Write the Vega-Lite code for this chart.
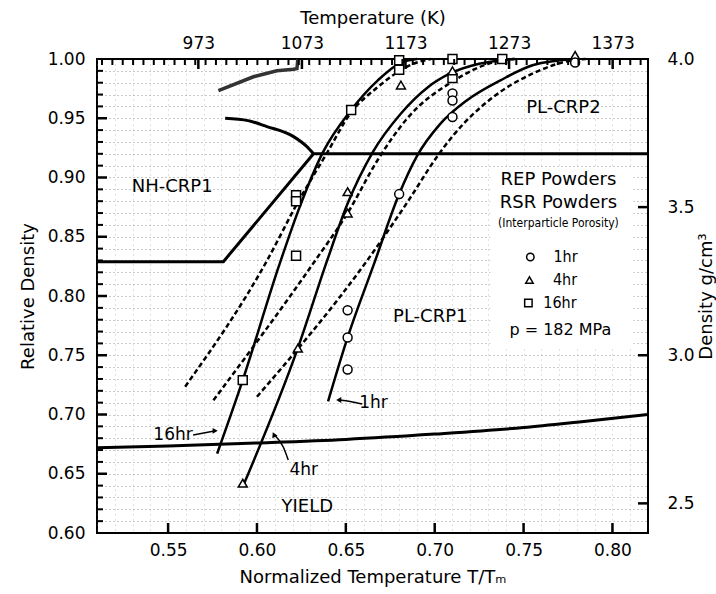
{
  "$schema": "https://vega.github.io/schema/vega-lite/v6.json",
  "width": 551,
  "height": 474,
  "autosize": {"type": "none"},
  "padding": {"left": 97, "top": 59, "right": 68, "bottom": 61},
  "background": "white",
  "config": {
    "view": {"stroke": "black", "strokeWidth": 2},
    "font": "DejaVu Sans",
    "axis": {"labelFont": "DejaVu Sans", "titleFont": "DejaVu Sans", "labelColor": "#000", "titleColor": "#000", "tickColor": "#000", "titleFontWeight": "normal", "domain": false, "grid": false, "labelFontSize": 17, "titleFontSize": 18}
  },
  "datasets": {
    "mk": [
      {"hr": "16hr", "t": 0.680, "r": 0.999},
      {"hr": "16hr", "t": 0.680, "r": 0.991},
      {"hr": "16hr", "t": 0.710, "r": 1.0},
      {"hr": "16hr", "t": 0.710, "r": 0.984},
      {"hr": "16hr", "t": 0.738, "r": 1.0},
      {"hr": "16hr", "t": 0.653, "r": 0.957},
      {"hr": "16hr", "t": 0.622, "r": 0.885},
      {"hr": "16hr", "t": 0.622, "r": 0.880},
      {"hr": "16hr", "t": 0.622, "r": 0.834},
      {"hr": "16hr", "t": 0.592, "r": 0.729},
      {"hr": "4hr", "t": 0.681, "r": 0.978},
      {"hr": "4hr", "t": 0.710, "r": 0.990},
      {"hr": "4hr", "t": 0.779, "r": 1.003},
      {"hr": "4hr", "t": 0.651, "r": 0.888},
      {"hr": "4hr", "t": 0.651, "r": 0.870},
      {"hr": "4hr", "t": 0.623, "r": 0.756},
      {"hr": "4hr", "t": 0.592, "r": 0.642},
      {"hr": "1hr", "t": 0.779, "r": 0.997},
      {"hr": "1hr", "t": 0.710, "r": 0.971},
      {"hr": "1hr", "t": 0.710, "r": 0.965},
      {"hr": "1hr", "t": 0.710, "r": 0.951},
      {"hr": "1hr", "t": 0.680, "r": 0.886},
      {"hr": "1hr", "t": 0.651, "r": 0.788},
      {"hr": "1hr", "t": 0.651, "r": 0.765},
      {"hr": "1hr", "t": 0.651, "r": 0.738}
    ],
    "lg": [
      {"hr": "1hr", "t": 0.7538, "r": 0.8329},
      {"hr": "4hr", "t": 0.7533, "r": 0.8135},
      {"hr": "16hr", "t": 0.7527, "r": 0.7941}
    ],
    "ln": [
      {"id": "s16", "t": 0.5776, "r": 0.667},
      {"id": "s16", "t": 0.592, "r": 0.729},
      {"id": "s16", "t": 0.6125, "r": 0.826},
      {"id": "s16", "t": 0.624, "r": 0.875},
      {"id": "s16", "t": 0.637, "r": 0.921},
      {"id": "s16", "t": 0.653, "r": 0.957},
      {"id": "s16", "t": 0.668, "r": 0.982},
      {"id": "s16", "t": 0.681, "r": 0.997},
      {"id": "s16", "t": 0.690, "r": 1.0},
      {"id": "s4", "t": 0.592, "r": 0.639},
      {"id": "s4", "t": 0.623, "r": 0.756},
      {"id": "s4", "t": 0.6395, "r": 0.830},
      {"id": "s4", "t": 0.651, "r": 0.878},
      {"id": "s4", "t": 0.665, "r": 0.921},
      {"id": "s4", "t": 0.681, "r": 0.954},
      {"id": "s4", "t": 0.696, "r": 0.976},
      {"id": "s4", "t": 0.709, "r": 0.988},
      {"id": "s4", "t": 0.725, "r": 0.996},
      {"id": "s4", "t": 0.745, "r": 1.0},
      {"id": "s1", "t": 0.640, "r": 0.711},
      {"id": "s1", "t": 0.651, "r": 0.765},
      {"id": "s1", "t": 0.6656, "r": 0.826},
      {"id": "s1", "t": 0.680, "r": 0.886},
      {"id": "s1", "t": 0.690, "r": 0.918},
      {"id": "s1", "t": 0.703, "r": 0.945},
      {"id": "s1", "t": 0.718, "r": 0.965},
      {"id": "s1", "t": 0.737, "r": 0.982},
      {"id": "s1", "t": 0.7555, "r": 0.995},
      {"id": "s1", "t": 0.779, "r": 1.0},
      {"id": "d16", "t": 0.5596, "r": 0.7235},
      {"id": "d16", "t": 0.6057, "r": 0.830},
      {"id": "d16", "t": 0.6226, "r": 0.878},
      {"id": "d16", "t": 0.6395, "r": 0.921},
      {"id": "d16", "t": 0.6525, "r": 0.954},
      {"id": "d16", "t": 0.6677, "r": 0.976},
      {"id": "d16", "t": 0.688, "r": 0.996},
      {"id": "d16", "t": 0.698, "r": 1.0},
      {"id": "d4", "t": 0.5755, "r": 0.712},
      {"id": "d4", "t": 0.6328, "r": 0.830},
      {"id": "d4", "t": 0.651, "r": 0.870},
      {"id": "d4", "t": 0.668, "r": 0.915},
      {"id": "d4", "t": 0.6846, "r": 0.950},
      {"id": "d4", "t": 0.710, "r": 0.981},
      {"id": "d4", "t": 0.735, "r": 0.998},
      {"id": "d4", "t": 0.745, "r": 1.0},
      {"id": "d1", "t": 0.600, "r": 0.715},
      {"id": "d1", "t": 0.662, "r": 0.830},
      {"id": "d1", "t": 0.685, "r": 0.880},
      {"id": "d1", "t": 0.7015, "r": 0.918},
      {"id": "d1", "t": 0.7107, "r": 0.936},
      {"id": "d1", "t": 0.733, "r": 0.968},
      {"id": "d1", "t": 0.7555, "r": 0.988},
      {"id": "d1", "t": 0.778, "r": 0.999},
      {"id": "d1", "t": 0.785, "r": 1.0},
      {"id": "nh", "t": 0.51, "r": 0.829},
      {"id": "nh", "t": 0.5811, "r": 0.829},
      {"id": "nh", "t": 0.6318, "r": 0.920},
      {"id": "nh", "t": 0.82, "r": 0.920},
      {"id": "c95", "t": 0.5821, "r": 0.950},
      {"id": "c95", "t": 0.595, "r": 0.948},
      {"id": "c95", "t": 0.6056, "r": 0.943},
      {"id": "c95", "t": 0.6206, "r": 0.9345},
      {"id": "c95", "t": 0.6281, "r": 0.926},
      {"id": "c95", "t": 0.6318, "r": 0.920},
      {"id": "top", "t": 0.5783, "r": 0.9733},
      {"id": "top", "t": 0.598, "r": 0.985},
      {"id": "top", "t": 0.6112, "r": 0.990},
      {"id": "top", "t": 0.6206, "r": 0.9913},
      {"id": "top", "t": 0.6225, "r": 0.992},
      {"id": "top", "t": 0.623, "r": 1.0},
      {"id": "yld", "t": 0.51, "r": 0.672},
      {"id": "yld", "t": 0.55, "r": 0.6735},
      {"id": "yld", "t": 0.60, "r": 0.676},
      {"id": "yld", "t": 0.65, "r": 0.679},
      {"id": "yld", "t": 0.70, "r": 0.6835},
      {"id": "yld", "t": 0.75, "r": 0.689},
      {"id": "yld", "t": 0.78, "r": 0.6935},
      {"id": "yld", "t": 0.82, "r": 0.700},
      {"id": "a16", "t": 0.5641, "r": 0.6827},
      {"id": "a16", "t": 0.5760, "r": 0.6861},
      {"id": "a1", "t": 0.6465, "r": 0.7122},
      {"id": "a1", "t": 0.6525, "r": 0.7110},
      {"id": "a1", "t": 0.6592, "r": 0.7089},
      {"id": "a4", "t": 0.6100, "r": 0.6825},
      {"id": "a4", "t": 0.6148, "r": 0.6726},
      {"id": "a4", "t": 0.6176, "r": 0.6616}
    ],
    "ah": [
      {"a": "a16", "t": 0.5765, "r": 0.6862},
      {"a": "a1", "t": 0.6460, "r": 0.7122},
      {"a": "a4", "t": 0.6095, "r": 0.6830}
    ],
    "tx": [
      {"g": "big", "s": "NH-CRP1", "t": 0.5523, "r": 0.892},
      {"g": "big", "s": "PL-CRP1", "t": 0.6975, "r": 0.7823},
      {"g": "big", "s": "PL-CRP2", "t": 0.7724, "r": 0.9587},
      {"g": "big", "s": "YIELD", "t": 0.6283, "r": 0.622},
      {"g": "big", "s": "REP Powders", "t": 0.7696, "r": 0.8979},
      {"g": "big", "s": "RSR Powders", "t": 0.7696, "r": 0.8785},
      {"g": "small", "s": "(Interparticle Porosity)", "t": 0.7696, "r": 0.8616},
      {"g": "arr", "s": "1hr", "t": 0.6656, "r": 0.7095},
      {"g": "arr", "s": "16hr", "t": 0.5528, "r": 0.6827},
      {"g": "arr", "s": "4hr", "t": 0.6263, "r": 0.6532},
      {"g": "leg", "s": "1hr", "t": 0.7668, "r": 0.8329},
      {"g": "leg", "s": "4hr", "t": 0.7665, "r": 0.8135},
      {"g": "leg", "s": "16hr", "t": 0.7611, "r": 0.7941},
      {"g": "p", "s": "p = 182 MPa", "t": 0.7707, "r": 0.7713}
    ],
    "tk": [
      {"ax": "b", "v": 0.55}, {"ax": "b", "v": 0.60}, {"ax": "b", "v": 0.65}, {"ax": "b", "v": 0.70}, {"ax": "b", "v": 0.75}, {"ax": "b", "v": 0.80},
      {"ax": "l", "v": 0.65}, {"ax": "l", "v": 0.70}, {"ax": "l", "v": 0.75}, {"ax": "l", "v": 0.80}, {"ax": "l", "v": 0.85}, {"ax": "l", "v": 0.90}, {"ax": "l", "v": 0.95},
      {"ax": "lm", "v": 0.61}, {"ax": "lm", "v": 0.62}, {"ax": "lm", "v": 0.63}, {"ax": "lm", "v": 0.64},
      {"ax": "lm", "v": 0.66}, {"ax": "lm", "v": 0.67}, {"ax": "lm", "v": 0.68}, {"ax": "lm", "v": 0.69},
      {"ax": "lm", "v": 0.71}, {"ax": "lm", "v": 0.72}, {"ax": "lm", "v": 0.73}, {"ax": "lm", "v": 0.74},
      {"ax": "lm", "v": 0.76}, {"ax": "lm", "v": 0.77}, {"ax": "lm", "v": 0.78}, {"ax": "lm", "v": 0.79},
      {"ax": "lm", "v": 0.81}, {"ax": "lm", "v": 0.82}, {"ax": "lm", "v": 0.83}, {"ax": "lm", "v": 0.84},
      {"ax": "lm", "v": 0.86}, {"ax": "lm", "v": 0.87}, {"ax": "lm", "v": 0.88}, {"ax": "lm", "v": 0.89},
      {"ax": "lm", "v": 0.91}, {"ax": "lm", "v": 0.92}, {"ax": "lm", "v": 0.93}, {"ax": "lm", "v": 0.94},
      {"ax": "lm", "v": 0.96}, {"ax": "lm", "v": 0.97}, {"ax": "lm", "v": 0.98}, {"ax": "lm", "v": 0.99}
    ],
    "ktk": [
      {"ax": "t", "K": 973}, {"ax": "t", "K": 1073}, {"ax": "t", "K": 1173}, {"ax": "t", "K": 1273}, {"ax": "t", "K": 1373},
      {"ax": "tm", "K": 880}, {"ax": "tm", "K": 890}, {"ax": "tm", "K": 900}, {"ax": "tm", "K": 910}, {"ax": "tm", "K": 920},
      {"ax": "tm", "K": 930}, {"ax": "tm", "K": 940}, {"ax": "tm", "K": 950}, {"ax": "tm", "K": 960}, {"ax": "tm", "K": 970},
      {"ax": "tm", "K": 980}, {"ax": "tm", "K": 990}, {"ax": "tm", "K": 1000}, {"ax": "tm", "K": 1010}, {"ax": "tm", "K": 1020},
      {"ax": "tm", "K": 1030}, {"ax": "tm", "K": 1040}, {"ax": "tm", "K": 1050}, {"ax": "tm", "K": 1060}, {"ax": "tm", "K": 1070},
      {"ax": "tm", "K": 1080}, {"ax": "tm", "K": 1090}, {"ax": "tm", "K": 1100}, {"ax": "tm", "K": 1110}, {"ax": "tm", "K": 1120},
      {"ax": "tm", "K": 1130}, {"ax": "tm", "K": 1140}, {"ax": "tm", "K": 1150}, {"ax": "tm", "K": 1160}, {"ax": "tm", "K": 1170},
      {"ax": "tm", "K": 1180}, {"ax": "tm", "K": 1190}, {"ax": "tm", "K": 1200}, {"ax": "tm", "K": 1210}, {"ax": "tm", "K": 1220},
      {"ax": "tm", "K": 1230}, {"ax": "tm", "K": 1240}, {"ax": "tm", "K": 1250}, {"ax": "tm", "K": 1260}, {"ax": "tm", "K": 1270},
      {"ax": "tm", "K": 1280}, {"ax": "tm", "K": 1290}, {"ax": "tm", "K": 1300}, {"ax": "tm", "K": 1310}, {"ax": "tm", "K": 1320},
      {"ax": "tm", "K": 1330}, {"ax": "tm", "K": 1340}, {"ax": "tm", "K": 1350}, {"ax": "tm", "K": 1360}, {"ax": "tm", "K": 1370},
      {"ax": "tm", "K": 1380}, {"ax": "tm", "K": 1390}, {"ax": "tm", "K": 1400}
    ],
    "dtk": [{"d": 2.5}, {"d": 3.0}, {"d": 3.5}],
    "box": [{"t1": 0.7313, "t2": 0.8118, "r1": 0.757, "r2": 0.9089}],
    "kax": [{"K": 973}, {"K": 1373}],
    "dax": [{"d": 2.5}, {"d": 4.0}]
  },
  "layer": [
    {
      "layer": [
        {
          "data": {"name": "mk"},
          "mark": {"type": "point", "opacity": 0},
          "encoding": {
            "x": {"field": "t", "type": "quantitative", "scale": {"domain": [0.51, 0.82], "nice": false, "zero": false},
              "axis": {"orient": "bottom", "grid": true, "ticks": false, "labels": false, "title": null,
                "values": [0.51,0.52,0.53,0.54,0.55,0.56,0.57,0.58,0.59,0.60,0.61,0.62,0.63,0.64,0.65,0.66,0.67,0.68,0.69,0.70,0.71,0.72,0.73,0.74,0.75,0.76,0.77,0.78,0.79,0.80,0.81],
                "gridColor": "#777", "gridDash": [1, 4], "gridOpacity": 0.45, "gridWidth": 1}},
            "y": {"field": "r", "type": "quantitative", "scale": {"domain": [0.6, 1.0], "nice": false, "zero": false},
              "axis": {"orient": "left", "grid": true, "ticks": false, "labels": false, "title": null,
                "values": [0.61,0.62,0.63,0.64,0.65,0.66,0.67,0.68,0.69,0.70,0.71,0.72,0.73,0.74,0.75,0.76,0.77,0.78,0.79,0.80,0.81,0.82,0.83,0.84,0.85,0.86,0.87,0.88,0.89,0.90,0.91,0.92,0.93,0.94,0.95,0.96,0.97,0.98,0.99],
                "gridColor": "#666", "gridDash": [1, 3], "gridOpacity": 0.7, "gridWidth": 1}}
          }
        },
        {
          "data": {"name": "mk"},
          "mark": {"type": "point", "opacity": 0},
          "encoding": {
            "x": {"field": "t", "type": "quantitative", "scale": {"domain": [0.51, 0.82], "nice": false, "zero": false},
              "axis": {"orient": "bottom", "ticks": false, "labelPadding": 9, "format": ".2f", "labelFlush": false,
                "values": [0.55, 0.60, 0.65, 0.70, 0.75, 0.80], "title": "Normalized Temperature T/Tₘ", "titlePadding": 10}},
            "y": {"field": "r", "type": "quantitative", "scale": {"domain": [0.6, 1.0], "nice": false, "zero": false},
              "axis": {"orient": "left", "ticks": false, "labelPadding": 12, "format": ".2f",
                "values": [0.60, 0.65, 0.70, 0.75, 0.80, 0.85, 0.90, 0.95, 1.00], "title": "Relative Density", "titlePadding": 10}}
          }
        },
        {
          "data": {"name": "tk"},
          "transform": [{"filter": {"field": "ax", "equal": "b"}}],
          "mark": {"type": "tick", "orient": "vertical", "size": 20, "thickness": 2.5, "color": "black", "opacity": 1, "clip": true},
          "encoding": {
            "x": {"field": "v", "type": "quantitative", "scale": {"domain": [0.51, 0.82], "nice": false, "zero": false}, "axis": null},
            "y": {"datum": 0.6, "type": "quantitative", "scale": {"domain": [0.6, 1.0], "nice": false, "zero": false}, "axis": null}
          }
        },
        {
          "data": {"name": "tk"},
          "transform": [{"filter": {"field": "ax", "equal": "l"}}],
          "mark": {"type": "tick", "orient": "horizontal", "size": 20, "thickness": 2.5, "color": "black", "opacity": 1, "clip": true},
          "encoding": {
            "y": {"field": "v", "type": "quantitative", "scale": {"domain": [0.6, 1.0], "nice": false, "zero": false}, "axis": null},
            "x": {"datum": 0.51, "type": "quantitative", "scale": {"domain": [0.51, 0.82], "nice": false, "zero": false}, "axis": null}
          }
        },
        {
          "data": {"name": "tk"},
          "transform": [{"filter": {"field": "ax", "equal": "lm"}}],
          "mark": {"type": "tick", "orient": "horizontal", "size": 12, "thickness": 2, "color": "black", "opacity": 1, "clip": true},
          "encoding": {
            "y": {"field": "v", "type": "quantitative", "scale": {"domain": [0.6, 1.0], "nice": false, "zero": false}, "axis": null},
            "x": {"datum": 0.51, "type": "quantitative", "scale": {"domain": [0.51, 0.82], "nice": false, "zero": false}, "axis": null}
          }
        },
        {
          "data": {"name": "box"},
          "mark": {"type": "rect", "fill": "white"},
          "encoding": {
            "x": {"field": "t1", "type": "quantitative", "scale": {"domain": [0.51, 0.82], "nice": false, "zero": false}, "axis": null},
            "x2": {"field": "t2"},
            "y": {"field": "r1", "type": "quantitative", "scale": {"domain": [0.6, 1.0], "nice": false, "zero": false}, "axis": null},
            "y2": {"field": "r2"}
          }
        },
        {
          "data": {"name": "ln"},
          "transform": [{"filter": {"field": "id", "oneOf": ["s16", "s4", "s1"]}}],
          "mark": {"type": "line", "color": "black", "strokeWidth": 2.5, "interpolate": "monotone"},
          "encoding": {
            "x": {"field": "t", "type": "quantitative", "scale": {"domain": [0.51, 0.82], "nice": false, "zero": false}, "axis": null},
            "y": {"field": "r", "type": "quantitative", "scale": {"domain": [0.6, 1.0], "nice": false, "zero": false}, "axis": null},
            "detail": {"field": "id"}
          }
        },
        {
          "data": {"name": "ln"},
          "transform": [{"filter": {"field": "id", "oneOf": ["d16", "d4", "d1"]}}],
          "mark": {"type": "line", "color": "black", "strokeWidth": 2.5, "strokeDash": [5, 3], "interpolate": "monotone"},
          "encoding": {
            "x": {"field": "t", "type": "quantitative", "scale": {"domain": [0.51, 0.82], "nice": false, "zero": false}, "axis": null},
            "y": {"field": "r", "type": "quantitative", "scale": {"domain": [0.6, 1.0], "nice": false, "zero": false}, "axis": null},
            "detail": {"field": "id"}
          }
        },
        {
          "data": {"name": "ln"},
          "transform": [{"filter": {"field": "id", "oneOf": ["c95", "yld"]}}],
          "mark": {"type": "line", "color": "black", "strokeWidth": 3, "interpolate": "monotone"},
          "encoding": {
            "x": {"field": "t", "type": "quantitative", "scale": {"domain": [0.51, 0.82], "nice": false, "zero": false}, "axis": null},
            "y": {"field": "r", "type": "quantitative", "scale": {"domain": [0.6, 1.0], "nice": false, "zero": false}, "axis": null},
            "detail": {"field": "id"}
          }
        },
        {
          "data": {"name": "ln"},
          "transform": [{"filter": {"field": "id", "oneOf": ["nh"]}}],
          "mark": {"type": "line", "color": "black", "strokeWidth": 3, "interpolate": "linear"},
          "encoding": {
            "x": {"field": "t", "type": "quantitative", "scale": {"domain": [0.51, 0.82], "nice": false, "zero": false}, "axis": null},
            "y": {"field": "r", "type": "quantitative", "scale": {"domain": [0.6, 1.0], "nice": false, "zero": false}, "axis": null}
          }
        },
        {
          "data": {"name": "ln"},
          "transform": [{"filter": {"field": "id", "oneOf": ["top"]}}],
          "mark": {"type": "line", "color": "#333", "strokeWidth": 3.5, "interpolate": "linear"},
          "encoding": {
            "x": {"field": "t", "type": "quantitative", "scale": {"domain": [0.51, 0.82], "nice": false, "zero": false}, "axis": null},
            "y": {"field": "r", "type": "quantitative", "scale": {"domain": [0.6, 1.0], "nice": false, "zero": false}, "axis": null}
          }
        },
        {
          "data": {"name": "ln"},
          "transform": [{"filter": {"field": "id", "oneOf": ["a16", "a1", "a4"]}}],
          "mark": {"type": "line", "color": "black", "strokeWidth": 1.5, "interpolate": "monotone"},
          "encoding": {
            "x": {"field": "t", "type": "quantitative", "scale": {"domain": [0.51, 0.82], "nice": false, "zero": false}, "axis": null},
            "y": {"field": "r", "type": "quantitative", "scale": {"domain": [0.6, 1.0], "nice": false, "zero": false}, "axis": null},
            "detail": {"field": "id"}
          }
        },
        {
          "data": {"name": "ah"},
          "transform": [{"filter": {"field": "a", "equal": "a16"}}],
          "mark": {"type": "point", "shape": "triangle-right", "filled": true, "color": "black", "size": 35, "opacity": 1},
          "encoding": {
            "x": {"field": "t", "type": "quantitative", "scale": {"domain": [0.51, 0.82], "nice": false, "zero": false}, "axis": null},
            "y": {"field": "r", "type": "quantitative", "scale": {"domain": [0.6, 1.0], "nice": false, "zero": false}, "axis": null}
          }
        },
        {
          "data": {"name": "ah"},
          "transform": [{"filter": {"field": "a", "equal": "a1"}}],
          "mark": {"type": "point", "shape": "triangle-left", "filled": true, "color": "black", "size": 35, "opacity": 1},
          "encoding": {
            "x": {"field": "t", "type": "quantitative", "scale": {"domain": [0.51, 0.82], "nice": false, "zero": false}, "axis": null},
            "y": {"field": "r", "type": "quantitative", "scale": {"domain": [0.6, 1.0], "nice": false, "zero": false}, "axis": null}
          }
        },
        {
          "data": {"name": "ah"},
          "transform": [{"filter": {"field": "a", "equal": "a4"}}],
          "mark": {"type": "point", "shape": "triangle-up", "filled": true, "color": "black", "size": 35, "angle": -25, "opacity": 1},
          "encoding": {
            "x": {"field": "t", "type": "quantitative", "scale": {"domain": [0.51, 0.82], "nice": false, "zero": false}, "axis": null},
            "y": {"field": "r", "type": "quantitative", "scale": {"domain": [0.6, 1.0], "nice": false, "zero": false}, "axis": null}
          }
        },
        {
          "data": {"name": "mk"},
          "mark": {"type": "point", "filled": true, "fill": "white", "stroke": "black", "strokeWidth": 1.5, "size": 80, "opacity": 1},
          "encoding": {
            "x": {"field": "t", "type": "quantitative", "scale": {"domain": [0.51, 0.82], "nice": false, "zero": false}, "axis": null},
            "y": {"field": "r", "type": "quantitative", "scale": {"domain": [0.6, 1.0], "nice": false, "zero": false}, "axis": null},
            "shape": {"field": "hr", "type": "nominal", "scale": {"domain": ["1hr", "4hr", "16hr"], "range": ["circle", "triangle-up", "square"]}, "legend": null}
          }
        },
        {
          "data": {"name": "lg"},
          "mark": {"type": "point", "filled": true, "fill": "white", "stroke": "black", "strokeWidth": 1.5, "size": 55, "opacity": 1},
          "encoding": {
            "x": {"field": "t", "type": "quantitative", "scale": {"domain": [0.51, 0.82], "nice": false, "zero": false}, "axis": null},
            "y": {"field": "r", "type": "quantitative", "scale": {"domain": [0.6, 1.0], "nice": false, "zero": false}, "axis": null},
            "shape": {"field": "hr", "type": "nominal", "scale": {"domain": ["1hr", "4hr", "16hr"], "range": ["circle", "triangle-up", "square"]}, "legend": null}
          }
        },
        {
          "data": {"name": "tx"},
          "transform": [{"filter": {"field": "g", "oneOf": ["big"]}}],
          "mark": {"type": "text", "font": "DejaVu Sans", "fontSize": 18, "color": "black", "align": "center", "baseline": "middle"},
          "encoding": {
            "x": {"field": "t", "type": "quantitative", "scale": {"domain": [0.51, 0.82], "nice": false, "zero": false}, "axis": null},
            "y": {"field": "r", "type": "quantitative", "scale": {"domain": [0.6, 1.0], "nice": false, "zero": false}, "axis": null},
            "text": {"field": "s"}
          }
        },
        {
          "data": {"name": "tx"},
          "transform": [{"filter": {"field": "g", "oneOf": ["arr"]}}],
          "mark": {"type": "text", "font": "DejaVu Sans", "fontSize": 17, "color": "black", "align": "center", "baseline": "middle"},
          "encoding": {
            "x": {"field": "t", "type": "quantitative", "scale": {"domain": [0.51, 0.82], "nice": false, "zero": false}, "axis": null},
            "y": {"field": "r", "type": "quantitative", "scale": {"domain": [0.6, 1.0], "nice": false, "zero": false}, "axis": null},
            "text": {"field": "s"}
          }
        },
        {
          "data": {"name": "tx"},
          "transform": [{"filter": {"field": "g", "oneOf": ["small"]}}],
          "mark": {"type": "text", "font": "DejaVu Sans Condensed", "fontSize": 12, "color": "black", "align": "center", "baseline": "middle"},
          "encoding": {
            "x": {"field": "t", "type": "quantitative", "scale": {"domain": [0.51, 0.82], "nice": false, "zero": false}, "axis": null},
            "y": {"field": "r", "type": "quantitative", "scale": {"domain": [0.6, 1.0], "nice": false, "zero": false}, "axis": null},
            "text": {"field": "s"}
          }
        },
        {
          "data": {"name": "tx"},
          "transform": [{"filter": {"field": "g", "oneOf": ["leg"]}}],
          "mark": {"type": "text", "font": "DejaVu Sans Condensed", "fontSize": 16, "color": "black", "align": "left", "baseline": "middle"},
          "encoding": {
            "x": {"field": "t", "type": "quantitative", "scale": {"domain": [0.51, 0.82], "nice": false, "zero": false}, "axis": null},
            "y": {"field": "r", "type": "quantitative", "scale": {"domain": [0.6, 1.0], "nice": false, "zero": false}, "axis": null},
            "text": {"field": "s"}
          }
        },
        {
          "data": {"name": "tx"},
          "transform": [{"filter": {"field": "g", "oneOf": ["p"]}}],
          "mark": {"type": "text", "font": "DejaVu Sans", "fontSize": 16, "color": "black", "align": "center", "baseline": "middle"},
          "encoding": {
            "x": {"field": "t", "type": "quantitative", "scale": {"domain": [0.51, 0.82], "nice": false, "zero": false}, "axis": null},
            "y": {"field": "r", "type": "quantitative", "scale": {"domain": [0.6, 1.0], "nice": false, "zero": false}, "axis": null},
            "text": {"field": "s"}
          }
        }
      ],
      "resolve": {"axis": {"x": "independent", "y": "independent"}}
    },
    {
      "data": {"name": "kax"},
      "mark": {"type": "point", "opacity": 0},
      "encoding": {
        "x": {"field": "K", "type": "quantitative", "scale": {"domain": [875.16, 1407.12], "nice": false, "zero": false},
          "axis": {"orient": "top", "ticks": false, "labelPadding": 7, "values": [973, 1073, 1173, 1273, 1373], "format": "d", "labelFlush": false, "title": "Temperature (K)", "titlePadding": 7}}
      }
    },
    {
      "data": {"name": "ktk"},
      "transform": [{"filter": {"field": "ax", "equal": "t"}}],
      "mark": {"type": "tick", "orient": "vertical", "size": 20, "thickness": 2.5, "color": "black", "opacity": 1, "clip": true},
      "encoding": {
        "x": {"field": "K", "type": "quantitative", "scale": {"domain": [875.16, 1407.12], "nice": false, "zero": false}, "axis": null},
        "y": {"datum": 1.0, "type": "quantitative", "scale": {"domain": [0.6, 1.0], "nice": false, "zero": false}, "axis": null}
      }
    },
    {
      "data": {"name": "ktk"},
      "transform": [{"filter": {"field": "ax", "equal": "tm"}}],
      "mark": {"type": "tick", "orient": "vertical", "size": 12, "thickness": 2, "color": "black", "opacity": 1, "clip": true},
      "encoding": {
        "x": {"field": "K", "type": "quantitative", "scale": {"domain": [875.16, 1407.12], "nice": false, "zero": false}, "axis": null},
        "y": {"datum": 1.0, "type": "quantitative", "scale": {"domain": [0.6, 1.0], "nice": false, "zero": false}, "axis": null}
      }
    },
    {
      "data": {"name": "dax"},
      "mark": {"type": "point", "opacity": 0},
      "encoding": {
        "y": {"field": "d", "type": "quantitative", "scale": {"domain": [2.4, 4.0], "nice": false, "zero": false},
          "axis": {"orient": "right", "ticks": false, "labelPadding": 19, "values": [2.5, 3.0, 3.5, 4.0], "format": ".1f", "title": "Density g/cm³", "titleAngle": 270, "titlePadding": 21}}
      }
    },
    {
      "data": {"name": "dtk"},
      "mark": {"type": "tick", "orient": "horizontal", "size": 20, "thickness": 2.5, "color": "black", "opacity": 1, "clip": true},
      "encoding": {
        "y": {"field": "d", "type": "quantitative", "scale": {"domain": [2.4, 4.0], "nice": false, "zero": false}, "axis": null},
        "x": {"datum": 0.82, "type": "quantitative", "scale": {"domain": [0.51, 0.82], "nice": false, "zero": false}, "axis": null}
      }
    }
  ],
  "resolve": {"scale": {"x": "independent", "y": "independent"}, "axis": {"x": "independent", "y": "independent"}}
}
